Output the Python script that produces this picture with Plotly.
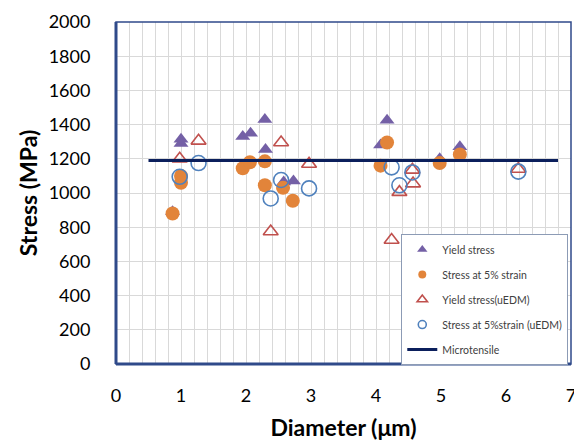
import plotly.graph_objects as go

# Yield stress (purple filled triangles)
ys_x = [0.87, 1.0, 1.0, 1.95, 2.07, 2.29, 2.30, 2.58, 2.73, 4.07, 4.17, 4.98, 5.29]
ys_y = [890, 1315, 1290, 1330, 1350, 1430, 1255, 1065, 1070, 1280, 1425, 1200, 1270]

# Stress at 5% strain (orange filled circles)
s5_x = [0.87, 1.0, 1.0, 1.95, 2.06, 2.29, 2.29, 2.57, 2.72, 4.07, 4.17, 4.98, 5.29]
s5_y = [880, 1100, 1060, 1145, 1180, 1185, 1045, 1030, 955, 1160, 1295, 1175, 1225]

# Yield stress (uEDM) (red open triangles)
ye_x = [0.98, 1.27, 2.38, 2.54, 2.97, 4.24, 4.36, 4.56, 4.57, 6.19]
ye_y = [1200, 1305, 775, 1295, 1170, 725, 1005, 1135, 1055, 1140]

# Stress at 5% strain (uEDM) (blue open circles)
se_x = [0.98, 1.27, 2.38, 2.54, 2.97, 4.24, 4.36, 4.56, 6.19]
se_y = [1095, 1175, 968, 1076, 1027, 1150, 1045, 1120, 1125]

# Microtensile reference line
mt_x = [0.5, 6.8]
mt_y = [1190, 1190]

x_ticks = [0, 1, 2, 3, 4, 5, 6, 7]
y_ticks = [0, 200, 400, 600, 800, 1000, 1200, 1400, 1600, 1800, 2000]

FONT = "Lato, Carlito, Calibri, sans-serif"

series = [
    ("Yield stress", ys_x, ys_y, dict(symbol="triangle-up", color="#7460A6"), 13, 9),
    ("Stress at 5% strain", s5_x, s5_y, dict(symbol="circle", color="#E2843A"), 14, 8),
    ("Yield stress(uEDM)", ye_x, ye_y,
     dict(symbol="triangle-up-open", color="#C0504D", line=dict(width=1.6, color="#C0504D")), 13, 9),
    ("Stress at 5%strain (uEDM)", se_x, se_y,
     dict(symbol="circle-open", color="#4F81BD", line=dict(width=1.6, color="#4F81BD")), 15, 8),
]

fig = go.Figure()
for i, (name, xs, yv, mk, sz, lsz) in enumerate(series):
    fig.add_trace(go.Scatter(x=xs, y=yv, mode="markers", name=name, showlegend=False,
                             marker=dict(size=sz, **mk)))
for i, (name, xs, yv, mk, sz, lsz) in enumerate(series):
    fig.add_trace(go.Scatter(x=[None], y=[None], mode="markers", name=name,
                             legendgroup=f"g{i}", showlegend=True,
                             marker=dict(size=lsz, **mk)))
fig.add_trace(go.Scatter(x=mt_x, y=mt_y, mode="lines", name="Microtensile",
                         legendgroup="g9",
                         line=dict(color="#0B1F5C", width=3)))

frame_col = "#2F4A8A"
fig.update_layout(
    width=574, height=441,
    margin=dict(l=116, r=3, t=22, b=77, autoexpand=False),
    paper_bgcolor="white", plot_bgcolor="white",
    font=dict(family=FONT, color="#000000"),
    showlegend=True,
    legend=dict(x=0.627, y=0.38, xanchor="left", yanchor="top",
                bgcolor="white", bordercolor="#8C9BB5", borderwidth=1,
                font=dict(family=FONT, size=10.5, color="#404040"),
                tracegroupgap=6, itemwidth=30),
    xaxis=dict(range=[0, 7], tickvals=x_ticks, ticktext=[str(v) for v in x_ticks],
               automargin=False, ticklabeloverflow="allow",
               showgrid=True, gridcolor="#D9D9D9", gridwidth=1,
               minor=dict(dtick=0.2, showgrid=True, gridcolor="#D9D9D9", gridwidth=1),
               zeroline=False, showline=False,
               ticks="outside", ticklen=15, tickcolor="rgba(0,0,0,0)",
               tickfont=dict(family=FONT, size=18, color="#000000"),
               title=dict(text="<b>Diameter (μm)</b>", standoff=16,
                          font=dict(family=FONT, size=23, color="#000000"))),
    yaxis=dict(range=[0, 2000], tickvals=y_ticks, ticktext=[str(v) for v in y_ticks],
               automargin=False,
               showgrid=True, gridcolor="#D9D9D9", gridwidth=1,
               zeroline=False, showline=False,
               ticks="outside", ticklen=21, tickcolor="rgba(0,0,0,0)",
               tickfont=dict(family=FONT, size=18, color="#000000"),
               title=dict(text="<b>Stress (MPa)</b>", standoff=4,
                          font=dict(family=FONT, size=23, color="#000000"))),
    shapes=[
        dict(type="rect", xref="paper", yref="paper", x0=0, y0=0, x1=1, y1=1,
             line=dict(color=frame_col, width=1.5), layer="above"),
        dict(type="line", xref="paper", yref="paper", x0=0, y0=0, x1=0, y1=1,
             line=dict(color=frame_col, width=3), layer="above"),
        dict(type="line", xref="paper", yref="paper", x0=0, y0=0, x1=1, y1=0,
             line=dict(color=frame_col, width=3), layer="above"),
    ],
)

fig.write_html("out.html", config={"displayModeBar": False},
               post_script="document.body.style.margin='0';")
